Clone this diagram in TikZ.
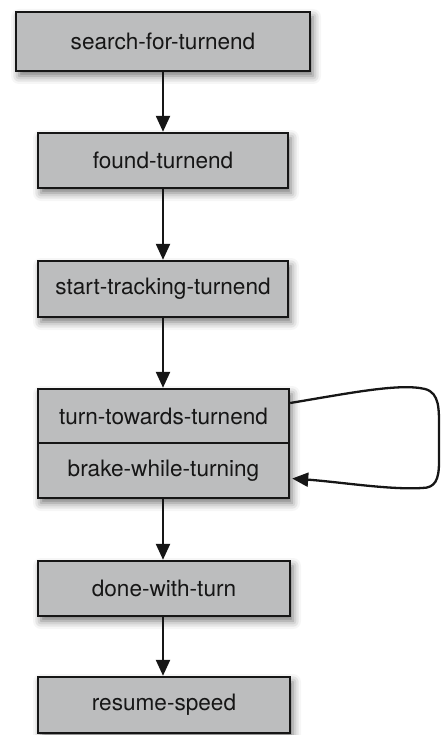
\documentclass[tikz,border=0pt]{standalone}
\usepackage{fontspec}
\setmainfont{TeX Gyre Heros}
\usetikzlibrary{arrows.meta,shadows.blur}

\definecolor{boxfill}{RGB}{188,189,190}
\definecolor{ink}{RGB}{22,22,22}

\tikzset{
  statebox/.style={draw=ink, line width=2.4pt, fill=boxfill, text=ink,
    minimum width=250pt, inner sep=0pt,
    font=\fontsize{22.6}{26}\selectfont},
  shadowed/.style={blur shadow={shadow xshift=3pt, shadow yshift=-5pt,
    shadow blur radius=8pt, shadow opacity=55}},
  flow/.style={draw=ink, line width=2.3pt,
    -{Triangle[width=14pt,length=16pt]}},
}

\begin{document}
\begin{tikzpicture}[x=1pt, y=-1pt]
  \useasboundingbox (0,0) rectangle (440,735);

  % chain of states
  \node[statebox, shadowed, minimum width=294pt, minimum height=59pt]
    (search) at (163,41.5) {search-for-turnend};
  \node[statebox, shadowed, minimum height=55pt]
    (found) at (163,160.5) {found-turnend};
  \node[statebox, shadowed, minimum height=56pt]
    (track) at (163,289) {start-tracking-turnend};

  % two-part state: a shadowed frame holding both halves
  \node[statebox, shadowed, minimum width=251pt, minimum height=109pt]
    (pair) at (163.5,443.5) {};
  \node[statebox, minimum width=251pt, minimum height=54pt, anchor=north]
    (turn) at (pair.north) {turn-towards-turnend};
  \node[statebox, minimum width=251pt, minimum height=55pt, anchor=south]
    (brake) at (pair.south) {brake-while-turning};

  \node[statebox, shadowed, minimum width=252pt, minimum height=55pt]
    (done) at (164,588.5) {done-with-turn};
  \node[statebox, shadowed, minimum width=252pt, minimum height=56pt]
    (resume) at (164,705) {resume-speed};

  % transitions
  \draw[flow] (search.south -| found.north) -- (found.north);
  \draw[flow] (found.south) -- (track.north);
  \draw[flow] (track.south) -- (track.south |- pair.north);
  \draw[flow] (pair.south -| track.south) -- (track.south |- done.north);
  \draw[flow] (done.south -| track.south) -- (track.south |- resume.north);

  % self-loop on the turning state
  \draw[flow] ([yshift=13pt]turn.east)
      .. controls (350,393) and (400,383) .. (425,389)
      .. controls (440,393) and (439,410) .. (439,430)
      -- (439,462)
      .. controls (439,480) and (435,488) .. (422,488)
      .. controls (390,490) and (340,482) .. ([xshift=2pt,yshift=-8pt]brake.east);
\end{tikzpicture}
\end{document}
